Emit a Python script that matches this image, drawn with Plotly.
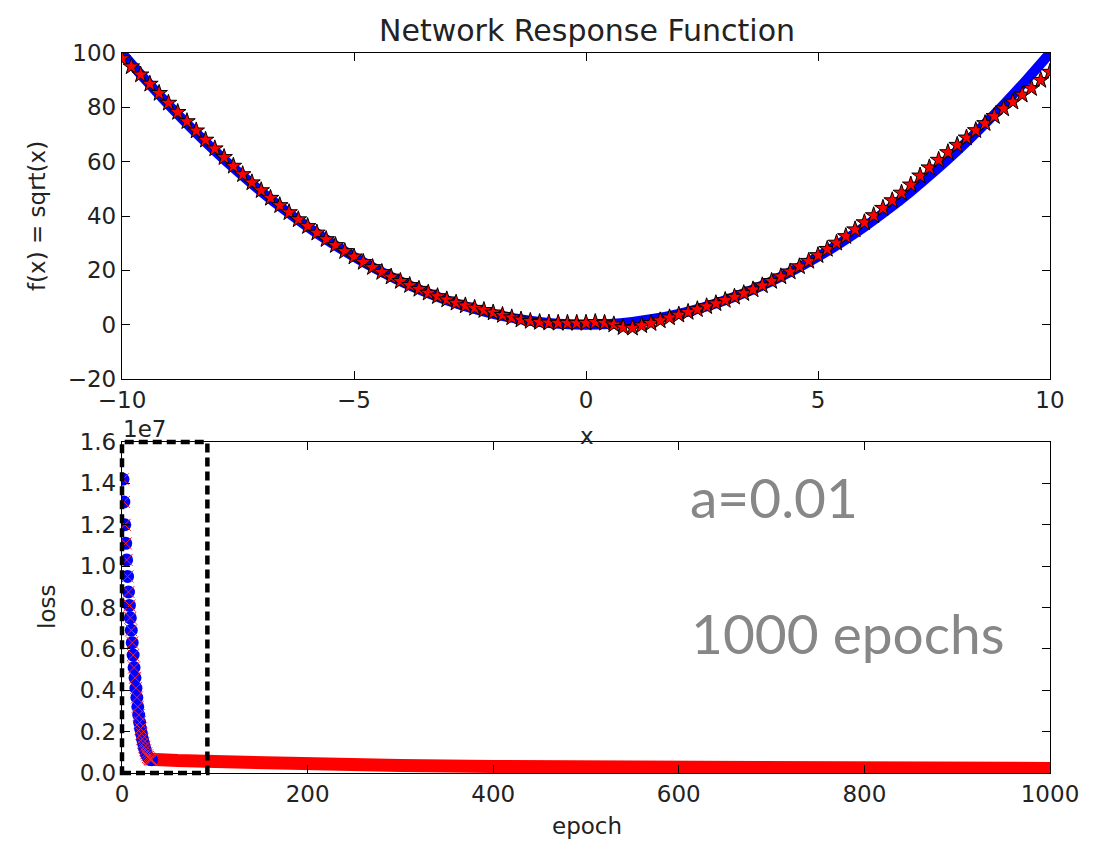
import plotly.graph_objects as go

W, H = 1099, 841

# ---------------- data ----------------
# top panel: target function (blue) and network output (red stars)
true_x = [-10.0, -9.5, -9.0, -8.5, -8.0, -7.5, -7.0, -6.5, -6.0, -5.5, -5.0, -4.5, -4.0, -3.5,
          -3.0, -2.5, -2.0, -1.5, -1.0, -0.5, 0.0, 0.5, 1.0, 1.5, 2.0, 2.5, 3.0, 3.5, 4.0, 4.5,
          5.0, 5.5, 6.0, 6.5, 7.0, 7.5, 8.0, 8.5, 9.0, 9.5, 10.0]
true_y = [100, 90.25, 81, 72.25, 64, 56.25, 49, 42.25, 36, 30.25, 25, 20.25, 16, 12.25,
          9, 6.25, 4, 2.25, 1, 0.25, 0, 0.25, 1, 2.25, 4, 6.25, 9, 12.25, 16, 20.25,
          25, 30.25, 36, 42.25, 49, 56.25, 64, 72.25, 81, 90.25, 100]

net_x = [-10.0, -9.8, -9.6, -9.4, -9.2, -9.0, -8.8, -8.6, -8.4, -8.2, -8.0, -7.8, -7.6, -7.4,
         -7.2, -7.0, -6.8, -6.6, -6.4, -6.2, -6.0, -5.8, -5.6, -5.4, -5.2, -5.0, -4.8, -4.6,
         -4.4, -4.2, -4.0, -3.8, -3.6, -3.4, -3.2, -3.0, -2.8, -2.6, -2.4, -2.2, -2.0, -1.8,
         -1.6, -1.4, -1.2, -1.0, -0.8, -0.6, -0.4, -0.2, 0.0, 0.2, 0.4, 0.6, 0.8, 1.0, 1.2,
         1.4, 1.6, 1.8, 2.0, 2.2, 2.4, 2.6, 2.8, 3.0, 3.2, 3.4, 3.6, 3.8, 4.0, 4.2, 4.4, 4.6,
         4.8, 5.0, 5.2, 5.4, 5.6, 5.8, 6.0, 6.2, 6.4, 6.6, 6.8, 7.0, 7.2, 7.4, 7.6, 7.8, 8.0,
         8.2, 8.4, 8.6, 8.8, 9.0, 9.2, 9.4, 9.6, 9.8, 10.0]
net_y = [98.0, 95.0, 92.0, 88.6, 85.2, 81.6, 78.2, 74.8, 71.4, 68.0, 64.8, 61.6, 58.4, 55.3,
         52.3, 49.4, 46.6, 43.9, 41.3, 38.7, 36.2, 33.8, 31.4, 29.2, 27.0, 25.0, 23.0, 21.1,
         19.3, 17.6, 16.0, 14.5, 13.1, 11.7, 10.4, 9.2, 8.0, 7.0, 6.1, 5.3, 4.4, 3.5,
         2.6, 1.8, 1.3, 0.9, 0.7, 0.6, 0.6, 0.6, 0.6, 0.9, 0.6, 0.0, -1.0, -1.2, -0.3,
         0.5, 1.5, 2.6, 3.6, 4.6, 5.6, 6.7, 7.8, 9.0, 10.2, 11.5, 12.9, 14.4, 16.0, 17.7, 19.5, 21.4,
         23.4, 25.5, 27.8, 30.1, 32.5, 35.0, 37.6, 40.2, 42.9, 45.7, 48.5, 51.5, 54.8, 57.8, 60.6, 63.4, 66.1,
         68.8, 71.5, 74.1, 76.7, 79.5, 82.0, 84.6, 87.0, 90.0, 93.0]

# bottom panel: loss (units of 1e7)
early_epoch = list(range(1, 33))
early_loss = [1.42, 1.31, 1.20, 1.11, 1.03, 0.95, 0.875, 0.81, 0.75, 0.69, 0.63, 0.57, 0.51,
              0.46, 0.41, 0.365, 0.32, 0.28, 0.245, 0.215, 0.19, 0.165, 0.145, 0.125, 0.11,
              0.095, 0.085, 0.077, 0.071, 0.067, 0.065, 0.064]
tail_epoch = [30, 35, 40, 60, 100, 150, 200, 250, 300, 400, 500, 600, 695, 705, 800, 1000]
tail_loss = [0.067, 0.064, 0.063, 0.060, 0.055, 0.048, 0.043, 0.040, 0.036, 0.032, 0.029,
             0.028, 0.027, 0.024, 0.023, 0.022]

top_xticks = [-10, -5, 0, 5, 10]
top_xtext = ["\u221210", "\u22125", "0", "5", "10"]
top_yticks = [-20, 0, 20, 40, 60, 80, 100]
top_ytext = ["\u221220", "0", "20", "40", "60", "80", "100"]
bot_xticks = [0, 200, 400, 600, 800, 1000]
bot_yticks = [0.0, 0.2, 0.4, 0.6, 0.8, 1.0, 1.2, 1.4, 1.6]
EPOCH_MAX = 1000
ZOOM_BOX_EPOCHS = 92


def px(x):
    return x / W


def py(y):
    return 1 - y / H


FONT = "DejaVu Sans"
TXT = "#222222"

fig = go.Figure()

fig.add_trace(go.Scatter(x=true_x, y=true_y, mode="lines", line=dict(color="#0000ff", width=10, shape="spline"),
                         xaxis="x", yaxis="y", showlegend=False))
fig.add_trace(go.Scatter(x=net_x, y=net_y, mode="markers",
                         marker=dict(symbol="star", size=12.5, color="#ff0000", line=dict(color="black", width=1)),
                         xaxis="x", yaxis="y", showlegend=False))

fig.add_trace(go.Scatter(x=tail_epoch, y=tail_loss, mode="lines", line=dict(color="#ff0000", width=13),
                         xaxis="x2", yaxis="y2", showlegend=False))
fig.add_trace(go.Scatter(x=early_epoch, y=early_loss, mode="markers",
                         marker=dict(symbol="circle", size=13, color="#0000ff", line=dict(width=0)),
                         xaxis="x2", yaxis="y2", showlegend=False))
fig.add_trace(go.Scatter(x=early_epoch, y=early_loss, mode="markers",
                         marker=dict(symbol="x-thin", size=12, color="#ff0000", line=dict(color="#ff2020", width=1)),
                         xaxis="x2", yaxis="y2", showlegend=False))

axis_common = dict(showgrid=False, zeroline=False, showline=True, linecolor="black", linewidth=1.3,
                   mirror="ticks", ticks="inside", ticklen=8, tickwidth=1, tickcolor="black",
                   automargin=False,
                   tickfont=dict(family=FONT, size=23, color=TXT))

fig.update_layout(
    template="none",
    width=W, height=H, margin=dict(l=0, r=0, t=0, b=0, pad=0),
    paper_bgcolor="white", plot_bgcolor="white",
    xaxis=dict(domain=[px(122), px(1050)], range=[-10, 10], tickvals=top_xticks, ticktext=top_xtext,
               anchor="y", **axis_common),
    yaxis=dict(domain=[py(379), py(53)], range=[-20, 100], tickvals=top_yticks, ticktext=top_ytext,
               anchor="x", **axis_common),
    xaxis2=dict(domain=[px(122), px(1050)], range=[0, EPOCH_MAX], tickvals=bot_xticks,
                anchor="y2", **axis_common),
    yaxis2=dict(domain=[py(773), py(442)], range=[0, 1.6], tickvals=bot_yticks, tickformat=".1f",
                anchor="x2", **axis_common),
)

fig.add_shape(type="rect", xref="x2 domain", yref="y2 domain", x0=0, x1=ZOOM_BOX_EPOCHS / EPOCH_MAX,
              y0=0, y1=1, line=dict(color="black", width=4.5, dash="9px,5px"), layer="above")

ann = [
    dict(text="Network Response Function", x=px(587), y=py(30), font=dict(size=30)),
    dict(text="x", x=px(587), y=py(436), font=dict(size=23)),
    dict(text="f(x) = sqrt(x)", x=px(37), y=py(216), font=dict(size=23), textangle=-90),
    dict(text="epoch", x=px(587), y=py(826), font=dict(size=23)),
    dict(text="loss", x=px(47), y=py(607), font=dict(size=23), textangle=-90),
]
for a in ann:
    fig.add_annotation(xref="paper", yref="paper", x=a["x"], y=a["y"], text=a["text"], showarrow=False,
                       xanchor="center", yanchor="middle", textangle=a.get("textangle", 0),
                       font=dict(family=FONT, color=TXT, size=a["font"]["size"]))

fig.add_annotation(xref="paper", yref="paper", x=px(121), y=py(429), text="1e7", showarrow=False,
                   xanchor="left", yanchor="middle", font=dict(family=FONT, color=TXT, size=23))

fig.add_annotation(xref="paper", yref="paper", x=px(688), y=py(497), text="a=0.01", showarrow=False,
                   xanchor="left", yanchor="middle", font=dict(family="Lato", color="#878787", size=55))
fig.add_annotation(xref="paper", yref="paper", x=px(689), y=py(633), text="1000 epochs", showarrow=False,
                   xanchor="left", yanchor="middle", font=dict(family="Lato", color="#878787", size=55))

fig.write_html("out.html")
